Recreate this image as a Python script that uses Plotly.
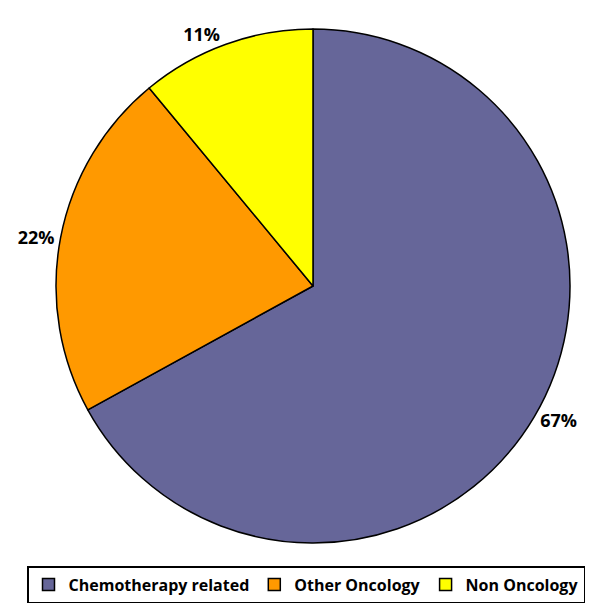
import plotly.graph_objects as go

categories = ["Chemotherapy related", "Other Oncology", "Non Oncology"]
shares = [67, 22, 11]
colors = ["#666699", "#FF9900", "#FFFF00"]

W, H = 606, 605
# page body adds an 8px offset, so positions are shifted back by 8
cx, cy, r = 305, 278, 257

fig = go.Figure()
fig.add_trace(go.Pie(
    labels=categories,
    values=shares,
    sort=False,
    direction="clockwise",
    rotation=0,
    marker=dict(colors=colors, line=dict(color="black", width=1.5)),
    textinfo="percent",
    texttemplate="%{percent:.0%}",
    textposition="outside",
    outsidetextfont=dict(family="Open Sans", size=18, color="black", weight="bold"),
    domain=dict(x=[(cx - r) / W, (cx + r) / W], y=[1 - (cy + r) / H, 1 - (cy - r) / H]),
    hoverinfo="label+percent",
))

fig.update_layout(
    width=W, height=H,
    margin=dict(l=0, r=0, t=0, b=0),
    paper_bgcolor="white",
    plot_bgcolor="white",
    showlegend=True,
    legend=dict(
        orientation="h",
        x=19 / W, xanchor="left",
        y=1 - 558 / H, yanchor="top",
        bordercolor="black", borderwidth=1.5,
        font=dict(family="Open Sans", size=16, color="black", weight="bold"),
        itemwidth=30,
        traceorder="normal",
    ),
)

fig.write_html("out.html")
